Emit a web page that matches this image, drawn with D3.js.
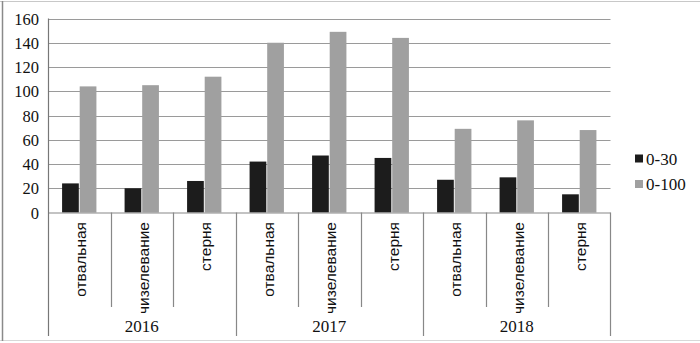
<!DOCTYPE html>
<html lang="ru">
<head>
<meta charset="utf-8">
<script src="https://d3js.org/d3.v7.min.js"></script>
<style>
  body { margin: 0; background: #fff; }
  svg text { fill: #111; }
  .serif { font-family: "Liberation Serif", "DejaVu Serif", serif; }
  .sans { font-family: "Liberation Sans", Arial, sans-serif; }
  .domain { display: none; }
</style>
</head>
<body>
<div id="chart"></div>
<script>
// data
const years = ["2016", "2017", "2018"];
const methods = ["отвальная", "чизелевание", "стерня"];
const seriesNames = ["0-30", "0-100"];
const s030 = [24, 20, 26, 42, 47, 45, 27, 29, 15];
const s0100 = [104, 105, 112, 140, 149, 144, 69, 76, 68];
const yTicks = [0, 20, 40, 60, 80, 100, 120, 140, 160];
const colors = ["#1c1c1c", "#a0a0a0"];

const W = 700, H = 343;
const margin = { top: 18.5, left: 48, right: 90, bottom: 130 };
const plotBottom = 212.5;

const svg = d3.select("#chart").append("svg")
  .attr("width", W).attr("height", H);

// outer frame
svg.append("line").attr("x1", 0).attr("x2", W).attr("y1", 1.5).attr("y2", 1.5)
  .attr("stroke", "#c8c8c8").attr("stroke-width", 1);
svg.append("line").attr("x1", 0).attr("x2", W).attr("y1", 340.5).attr("y2", 340.5)
  .attr("stroke", "#d8d8d8").attr("stroke-width", 1);
svg.append("line").attr("x1", 2.5).attr("x2", 2.5).attr("y1", 1).attr("y2", 341)
  .attr("stroke", "#8a8a8a").attr("stroke-width", 1.5);

// categories
const cats = [];
years.forEach(y => methods.forEach(m => cats.push({ year: y, method: m })));
cats.forEach((c, i) => { c.v = [s030[i], s0100[i]]; c.key = c.year + "|" + c.method; });

const x = d3.scaleBand().domain(cats.map(c => c.key)).range([48, 610.5]);
const xInner = d3.scaleBand().domain(seriesNames).range([0, x.bandwidth()])
  .paddingInner(0.05).paddingOuter(0.8);
const y = d3.scaleLinear().domain([0, 160]).range([plotBottom, margin.top]);

// gridlines
svg.append("g").selectAll("line").data(yTicks.filter(d => d > 0)).join("line")
  .attr("x1", 48).attr("x2", 610.5)
  .attr("y1", d => Math.round(y(d)) + 0.5).attr("y2", d => Math.round(y(d)) + 0.5)
  .attr("stroke", "#9a9a9a").attr("stroke-width", 1.2);

// y axis labels
const yAxis = d3.axisLeft(y).tickValues(yTicks).tickSize(0).tickPadding(9);
svg.append("g").attr("transform", "translate(48,0)").call(yAxis)
  .selectAll("text")
  .attr("class", "serif")
  .style("font-size", "16.5px")
  .attr("dy", "0.34em");

// bars
const groups = svg.append("g").selectAll("g").data(cats).join("g")
  .attr("transform", d => `translate(${x(d.key)},0)`);
groups.selectAll("rect").data(d => d.v.map((v, i) => ({ s: seriesNames[i], v, i }))).join("rect")
  .attr("x", d => xInner(d.s))
  .attr("width", xInner.bandwidth())
  .attr("y", d => y(d.v))
  .attr("height", d => plotBottom - y(d.v))
  .attr("fill", d => colors[d.i]);

// baseline
svg.append("line").attr("x1", 48).attr("x2", 610.5)
  .attr("y1", plotBottom + 0.5).attr("y2", plotBottom + 0.5)
  .attr("stroke", "#888").attr("stroke-width", 1.2);

// vertical axis line
svg.append("line").attr("x1", 48.5).attr("x2", 48.5)
  .attr("y1", margin.top).attr("y2", 336)
  .attr("stroke", "#777").attr("stroke-width", 1.2);

// category dividers
cats.forEach((c, i) => {
  if (i === 0) return;
  const xx = Math.round(x(c.key)) + 0.5;
  const long = i % 3 === 0;
  svg.append("line").attr("x1", xx).attr("x2", xx)
    .attr("y1", plotBottom).attr("y2", long ? 336 : 307)
    .attr("stroke", "#888").attr("stroke-width", 1.2);
});
svg.append("line").attr("x1", 610.5).attr("x2", 610.5)
  .attr("y1", plotBottom).attr("y2", 336)
  .attr("stroke", "#888").attr("stroke-width", 1.2);

// category labels (rotated)
svg.append("g").selectAll("text").data(cats).join("text")
  .attr("class", "sans")
  .attr("transform", d => `translate(${x(d.key) + x.bandwidth() / 2 + 7},222) rotate(-90)`)
  .attr("text-anchor", "end")
  .style("font-size", "15.5px")
  .text(d => d.method);

// year labels
svg.append("g").selectAll("text").data(years).join("text")
  .attr("class", "serif")
  .attr("x", (d, i) => x(cats[i * 3].key) + x.bandwidth() * 1.5)
  .attr("y", 332)
  .attr("text-anchor", "middle")
  .style("font-size", "17px")
  .text(d => d);

// legend
const legend = svg.append("g").selectAll("g").data(seriesNames).join("g")
  .attr("transform", (d, i) => `translate(635,${159 + i * 25.5})`);
legend.append("rect").attr("x", 0).attr("y", -4.5).attr("width", 8).attr("height", 8)
  .attr("fill", (d, i) => colors[i]);
legend.append("text").attr("class", "serif").attr("x", 11).attr("y", 5.5)
  .style("font-size", "17px").text(d => d);
</script>
</body>
</html>
